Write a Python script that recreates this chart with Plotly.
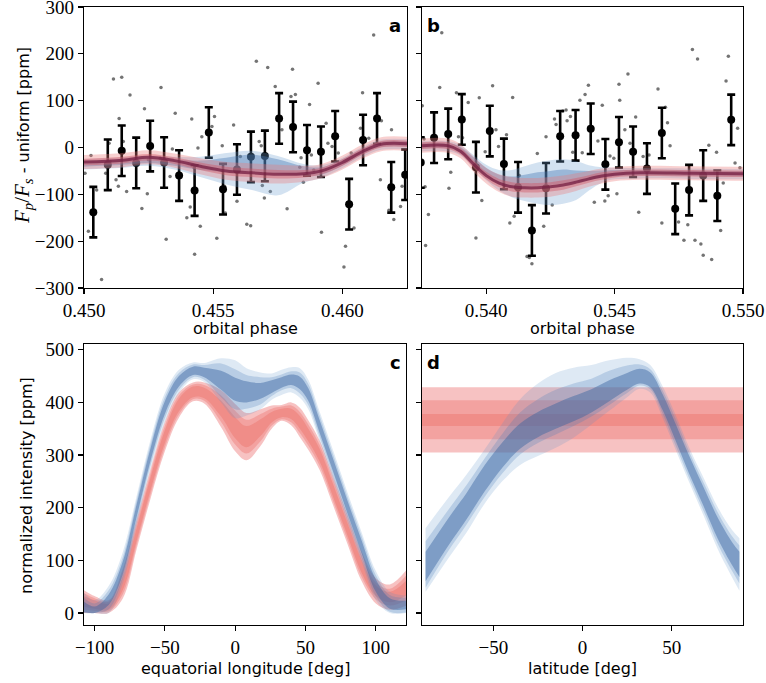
import plotly.graph_objects as go

# ---------------- panel a: binned points ----------------
a_bin_phase = [0.45036, 0.45092, 0.45146, 0.45202, 0.45256, 0.45310, 0.45368, 0.45428,
               0.45483, 0.45538, 0.45592, 0.45646, 0.45700, 0.45755, 0.45809, 0.45863,
               0.45917, 0.45972, 0.46026, 0.46080, 0.46134, 0.46189, 0.46243]
a_bin_flux = [-138, -37, -7, -33, 3, -32, -60, -92, 32, -89, -47, -20, -18, 62, 44, -6,
              -9, 24, -121, 16, 62, -85, -58]
a_bin_err = [54, 54, 54, 54, 54, 54, 54, 54, 54, 54, 54, 54, 54, 54, 54, 54,
             54, 54, 54, 54, 54, 54, 54]

# panel a: unbinned points
a_dot_phase = [0.45004, 0.45027, 0.45049, 0.45017, 0.45068, 0.45114, 0.45146, 0.45136, 0.45178,
               0.45152, 0.45124, 0.45133, 0.45165, 0.45097, 0.45101, 0.45084, 0.45234, 0.45249,
               0.45245, 0.45224, 0.45298, 0.45295, 0.45333, 0.45318, 0.45353, 0.45342, 0.45398,
               0.45411, 0.45417, 0.45428, 0.45441, 0.45426, 0.45450, 0.45456, 0.45505, 0.45495,
               0.45514, 0.45535, 0.45544, 0.45547, 0.45579, 0.45592, 0.45605, 0.45630, 0.45645,
               0.45667, 0.45678, 0.45686, 0.45711, 0.45690, 0.45721, 0.45698, 0.45740, 0.45766,
               0.45786, 0.45801, 0.45807, 0.45818, 0.45835, 0.45840, 0.45849, 0.45873, 0.45880,
               0.45889, 0.45906, 0.45919, 0.45922, 0.45937, 0.45944, 0.45960, 0.45984, 0.46006,
               0.46012, 0.46034, 0.46045, 0.46070, 0.46078, 0.46102, 0.46121, 0.46151, 0.46147,
               0.46180, 0.46190, 0.46199, 0.46225, 0.46231]
a_dot_flux = [-55, -17, -91, -179, -282, 146, 150, 62, 112,
              13, -69, -83, -94, 9, -30, -55, 83, -26,
              -99, -130, 128, -23, -62, -196, 73, -3, -150,
              -127, 61, -228, -1, -43, -168, 23, 66, 45,
              -194, 4, -83, -140, 48, -115, -19, -164, -167,
              184, 13, 4, 171, -81, -94, -108, 130, 38,
              -131, 109, 167, 113, -42, -22, -74, 92, -16,
              -48, 137, -181, -13, 52, 9, 2, -12, -255,
              -211, -12, -172, 41, 117, 20, 240, 57, -69,
              -134, 38, -154, -126, -83]

# panel a: model (blue = one model, red = other), medians and half-widths
a_phase = [0.4500, 0.4515, 0.4525, 0.4535, 0.4545, 0.4555, 0.4565, 0.4575, 0.4585,
           0.4592, 0.4600, 0.4608, 0.4615, 0.4625]
a_red_med = [-31, -27, -21, -28, -40, -50, -54, -57, -56, -50, -32, -8, 7, 8]
a_red_s1 = [7, 7, 7, 7, 8, 9, 9, 9, 8, 7, 7, 7, 7, 7]
a_red_s2 = [15, 15, 15, 15, 17, 19, 20, 20, 17, 15, 15, 15, 15, 15]
a_blue_med = [-35, -31, -27, -32, -38, -37, -33, -40, -50, -50, -32, -8, 7, 8]
a_blue_s1 = [6, 6, 6, 7, 10, 15, 18, 15, 10, 8, 7, 6, 6, 6]
a_blue_lo2 = [12, 12, 12, 15, 25, 42, 58, 62, 25, 15, 12, 12, 12, 12]
a_blue_hi2 = [10, 10, 10, 12, 18, 25, 26, 22, 15, 12, 10, 10, 10, 10]

# ---------------- panel b ----------------
b_bin_phase = [0.53745, 0.53797, 0.53852, 0.53905, 0.53960, 0.54014, 0.54069, 0.54124,
               0.54178, 0.54233, 0.54288, 0.54348, 0.54407, 0.54464, 0.54517, 0.54572,
               0.54626, 0.54684, 0.54736, 0.54790, 0.54845, 0.54900, 0.54954]
b_bin_flux = [-32, 21, 29, 60, -42, 35, -35, -85, -177, -87, 24, 26, 40, -36, 11, -9,
              -45, 31, -131, -91, -60, -103, 59]
b_bin_err = [54, 54, 54, 54, 54, 54, 54, 54, 54, 54, 54, 54, 54, 54, 54, 54,
             54, 54, 54, 54, 54, 54, 54]

b_dot_phase = [0.53751, 0.53758, 0.53762, 0.53775, 0.53764, 0.53827, 0.53819, 0.53855, 0.53862,
               0.53884, 0.53892, 0.53908, 0.53930, 0.53960, 0.53973, 0.53983, 0.53996, 0.54025,
               0.54038, 0.54048, 0.54079, 0.54103, 0.54092, 0.54109, 0.54129, 0.54159, 0.54168,
               0.54178, 0.54199, 0.54224, 0.54233, 0.54257, 0.54266, 0.54272, 0.54298, 0.54311,
               0.54315, 0.54328, 0.54337, 0.54365, 0.54374, 0.54385, 0.54398, 0.54421, 0.54435,
               0.54452, 0.54462, 0.54475, 0.54482, 0.54497, 0.54509, 0.54517, 0.54520, 0.54540,
               0.54552, 0.54560, 0.54582, 0.54594, 0.54611, 0.54634, 0.54669, 0.54684, 0.54698,
               0.54706, 0.54716, 0.54749, 0.54770, 0.54785, 0.54803, 0.54813, 0.54823, 0.54836,
               0.54845, 0.54867, 0.54878, 0.54897, 0.54913, 0.54923, 0.54934, 0.54943, 0.54969,
               0.54979, 0.54988]
b_dot_flux = [89, 18, -84, -143, -209, 245, 128, -87, -53,
              117, 23, 21, 96, -193, 106, -113, -9, 132,
              38, 2, 27, 107, -161, -147, -60, -233, -235,
              -248, -13, -168, 23, -123, 61, 49, 78, 80,
              57, 66, -10, 101, -11, 113, 133, -117, 14,
              90, -114, -103, -18, -23, -99, 135, 101, 38,
              157, 9, 65, -138, -19, -16, 125, -161, 86,
              53, 4, -159, -198, -165, 209, -198, 189, -206,
              -230, 5, -239, -10, -177, -76, 142, 195, -33,
              41, -43]

b_phase = [0.5375, 0.5385, 0.5390, 0.5395, 0.5400, 0.5405, 0.5410, 0.5415, 0.5420,
           0.5425, 0.5430, 0.5435, 0.5440, 0.5445, 0.5450, 0.5460, 0.5480, 0.5500]
b_red_med = [4, 4, -8, -35, -60, -76, -84, -86, -86, -84, -80, -74, -67, -61, -57, -54, -55, -56]
b_red_s1 = [7, 7, 7, 8, 8, 9, 10, 10, 10, 10, 10, 9, 8, 8, 7, 7, 7, 7]
b_red_s2 = [15, 15, 15, 16, 17, 19, 21, 21, 21, 21, 20, 19, 17, 16, 15, 15, 15, 15]
b_blue_med = [4, 4, -5, -28, -52, -68, -74, -72, -68, -65, -62, -62, -60, -57, -55, -54, -55, -56]
b_blue_s1 = [6, 6, 6, 7, 8, 10, 12, 14, 15, 15, 15, 13, 10, 8, 7, 6, 6, 6]
b_blue_lo2 = [12, 12, 12, 14, 18, 24, 32, 42, 52, 58, 58, 50, 32, 18, 13, 12, 12, 12]
b_blue_hi2 = [10, 10, 10, 12, 15, 20, 26, 32, 36, 38, 37, 33, 22, 15, 12, 10, 10, 10]

# ---------------- panel c: equatorial longitude profiles ----------------
c_lon = [-108, -100, -90, -80, -70, -60, -50, -40, -30, -22, -10, 0, 8, 18, 26, 33,
         40, 46, 52, 60, 70, 80, 90, 100, 110, 122]
c_blue_lo3 = [0, 0, 0, 55, 167, 275, 362, 418, 444, 439, 400, 370, 375, 387, 405, 414,
              419, 409, 387, 327, 250, 172, 97, 24, 0, 0]
c_blue_lo2 = [0, 0, 7, 65, 175, 283, 370, 424, 448, 443, 410, 387, 388, 396, 412, 423,
              427, 417, 395, 335, 258, 180, 105, 32, 2, 1]
c_blue_lo1 = [2, 0, 15, 73, 183, 291, 378, 430, 452, 448, 424, 403, 400, 407, 418, 428,
              433, 425, 403, 343, 266, 188, 113, 40, 8, 7]
c_blue_hi1 = [22, 12, 35, 97, 207, 315, 402, 450, 468, 466, 460, 447, 440, 437, 442, 448,
              453, 449, 427, 367, 290, 212, 137, 64, 28, 23]
c_blue_hi2 = [30, 18, 43, 105, 215, 323, 410, 456, 472, 471, 474, 463, 452, 448, 448, 453,
              459, 457, 435, 375, 298, 220, 145, 72, 34, 29]
c_blue_hi3 = [40, 24, 51, 115, 223, 331, 418, 462, 476, 475, 484, 480, 465, 457, 455, 462,
              467, 465, 443, 383, 306, 228, 153, 80, 40, 33]

c_red_lo3 = [0, 0, 0, 27, 122, 219, 307, 371, 402, 398, 353, 307, 290, 317, 350, 365,
             356, 334, 310, 272, 202, 130, 60, 18, 6, 14]
c_red_lo2 = [6, 4, 3, 35, 130, 227, 315, 377, 406, 403, 363, 320, 303, 326, 356, 368,
             362, 342, 318, 280, 210, 138, 68, 26, 14, 24]
c_red_lo1 = [12, 8, 6, 43, 138, 235, 323, 383, 410, 408, 373, 332, 315, 336, 362, 372,
             368, 350, 326, 288, 218, 146, 76, 32, 20, 34]
c_red_hi1 = [32, 24, 18, 67, 162, 259, 347, 407, 430, 428, 403, 372, 355, 368, 382, 388,
             388, 374, 350, 312, 242, 170, 100, 52, 40, 62]
c_red_hi2 = [38, 28, 21, 75, 170, 267, 355, 413, 434, 433, 413, 384, 367, 378, 388, 392,
             394, 382, 358, 320, 250, 178, 108, 58, 46, 72]
c_red_hi3 = [44, 32, 24, 83, 178, 275, 363, 419, 438, 438, 423, 397, 380, 387, 394, 395,
             400, 390, 366, 328, 258, 186, 116, 66, 54, 82]

# ---------------- panel d: latitude profiles ----------------
d_lat = [-88, -75, -65, -55, -45, -35, -25, -15, -5, 5, 15, 25, 32, 38, 45, 52, 60, 68, 76, 84, 88]
d_blue_lo3 = [40, 105, 153, 207, 250, 281, 298, 314, 333, 358, 384, 410, 426, 419, 370, 312, 247, 184, 120, 67, 42]
d_blue_lo2 = [48, 119, 168, 220, 265, 301, 323, 339, 355, 373, 395, 418, 432, 425, 378, 320, 255, 193, 130, 79, 56]
d_blue_lo1 = [60, 129, 178, 230, 276, 312, 334, 350, 364, 381, 402, 424, 436, 429, 385, 329, 263, 202, 140, 90, 68]
d_blue_hi1 = [116, 181, 228, 280, 324, 360, 382, 398, 412, 425, 442, 456, 464, 457, 415, 361, 297, 238, 180, 134, 116]
d_blue_hi2 = [136, 197, 243, 293, 340, 381, 406, 424, 436, 445, 460, 470, 472, 463, 422, 370, 305, 247, 190, 145, 128]
d_blue_hi3 = [161, 220, 263, 310, 360, 406, 436, 456, 466, 471, 480, 485, 482, 471, 430, 378, 313, 256, 200, 157, 142]

d_red_lat = [-90, 90]
d_red_lo3 = [305, 305]
d_red_lo2 = [330, 330]
d_red_lo1 = [355, 355]
d_red_hi1 = [378, 378]
d_red_hi2 = [404, 404]
d_red_hi3 = [429, 429]

# ---------------- styling ----------------
W, H = 766, 683
SERIF = "Liberation Serif"
SANS = "DejaVu Sans"

BLUE3 = "rgba(90,145,200,0.20)"
BLUE2 = "rgba(70,125,185,0.25)"
BLUE1 = "rgba(55,100,160,0.45)"
RED3 = "rgba(238,120,120,0.45)"
RED2 = "rgba(238,115,110,0.40)"
RED1 = "rgba(236,110,100,0.40)"

fig = go.Figure()


def band(xs, lo, hi, color, xa, ya, shape="spline"):
    fig.add_trace(go.Scatter(x=xs, y=lo, mode="lines",
                             line=dict(width=0, shape=shape, smoothing=1.0, color=color),
                             hoverinfo="skip", showlegend=False, xaxis=xa, yaxis=ya))
    fig.add_trace(go.Scatter(x=xs, y=hi, mode="lines",
                             line=dict(width=0, shape=shape, smoothing=1.0, color=color),
                             fill="tonexty", fillcolor=color,
                             hoverinfo="skip", showlegend=False, xaxis=xa, yaxis=ya))


def lc_panel(xa, ya, dot_x, dot_y, bx, by, be, ph, bmed, bs1, blo2, bhi2, rmed, rs1, rs2):
    fig.add_trace(go.Scatter(x=dot_x, y=dot_y, mode="markers",
                             marker=dict(size=3.5, color="rgba(70,70,70,0.75)"),
                             showlegend=False, xaxis=xa, yaxis=ya))
    fig.add_trace(go.Scatter(x=bx, y=by, mode="markers",
                             marker=dict(size=8, color="black"),
                             error_y=dict(type="data", array=be, visible=True,
                                          thickness=2.6, width=4, color="black"),
                             showlegend=False, xaxis=xa, yaxis=ya))
    # blue model
    band(ph, [m - s for m, s in zip(bmed, blo2)], [m + s for m, s in zip(bmed, bhi2)],
         "rgba(110,160,210,0.30)", xa, ya)
    band(ph, [m - s for m, s in zip(bmed, bs1)], [m + s for m, s in zip(bmed, bs1)],
         "rgba(70,120,180,0.40)", xa, ya)
    # red model
    band(ph, [m - s for m, s in zip(rmed, rs2)], [m + s for m, s in zip(rmed, rs2)],
         "rgba(235,120,120,0.35)", xa, ya)
    band(ph, [m - s for m, s in zip(rmed, rs1)], [m + s for m, s in zip(rmed, rs1)],
         "rgba(210,80,95,0.40)", xa, ya)
    fig.add_trace(go.Scatter(x=ph, y=rmed, mode="lines",
                             line=dict(width=3, shape="spline", smoothing=1.0,
                                       color="rgba(115,30,65,0.75)"),
                             hoverinfo="skip", showlegend=False, xaxis=xa, yaxis=ya))


lc_panel("x", "y", a_dot_phase, a_dot_flux, a_bin_phase, a_bin_flux, a_bin_err,
         a_phase, a_blue_med, a_blue_s1, a_blue_lo2, a_blue_hi2, a_red_med, a_red_s1, a_red_s2)
lc_panel("x2", "y2", b_dot_phase, b_dot_flux, b_bin_phase, b_bin_flux, b_bin_err,
         b_phase, b_blue_med, b_blue_s1, b_blue_lo2, b_blue_hi2, b_red_med, b_red_s1, b_red_s2)

# panel c
band(c_lon, c_red_lo3, c_red_hi3, RED3, "x3", "y3")
band(c_lon, c_red_lo2, c_red_hi2, RED2, "x3", "y3")
band(c_lon, c_red_lo1, c_red_hi1, RED1, "x3", "y3")
band(c_lon, c_blue_lo3, c_blue_hi3, BLUE3, "x3", "y3")
band(c_lon, c_blue_lo2, c_blue_hi2, BLUE2, "x3", "y3")
band(c_lon, c_blue_lo1, c_blue_hi1, BLUE1, "x3", "y3")

# panel d
band(d_red_lat, d_red_lo3, d_red_hi3, RED3, "x4", "y4", shape="linear")
band(d_red_lat, d_red_lo2, d_red_hi2, RED2, "x4", "y4", shape="linear")
band(d_red_lat, d_red_lo1, d_red_hi1, RED1, "x4", "y4", shape="linear")
band(d_lat, d_blue_lo3, d_blue_hi3, BLUE3, "x4", "y4")
band(d_lat, d_blue_lo2, d_blue_hi2, BLUE2, "x4", "y4")
band(d_lat, d_blue_lo1, d_blue_hi1, BLUE1, "x4", "y4")


def px(x):
    return x / W


def py(y):
    return 1 - y / H


ax_common = dict(showline=True, linecolor="black", linewidth=1.3, mirror=True,
                 ticks="outside", ticklen=5, tickwidth=1.2, tickcolor="black",
                 showgrid=False, zeroline=False, automargin=False,
                 ticklabeloverflow="allow",
                 tickfont=dict(family=SERIF, size=19, color="black"))

fig.update_layout(
    template="none",
    width=W, height=H, margin=dict(l=0, r=0, t=0, b=0, pad=0), autosize=False,
    paper_bgcolor="white", plot_bgcolor="white", showlegend=False,
    xaxis=dict(domain=[px(84), px(407)], anchor="y", range=[0.450, 0.4625],
               tickvals=[0.450, 0.455, 0.460], tickformat=".3f", **ax_common),
    yaxis=dict(domain=[py(288), py(7)], anchor="x", range=[-300, 300],
               tickvals=[-300, -200, -100, 0, 100, 200, 300], **ax_common),
    xaxis2=dict(domain=[px(422), px(743)], anchor="y2", range=[0.5375, 0.5500],
                tickvals=[0.540, 0.545, 0.550], tickformat=".3f", **ax_common),
    yaxis2=dict(domain=[py(288), py(7)], anchor="x2", range=[-300, 300],
                tickvals=[-300, -200, -100, 0, 100, 200, 300], showticklabels=False, **ax_common),
    xaxis3=dict(domain=[px(84), px(406)], anchor="y3", range=[-107.5, 121.5],
                tickvals=[-100, -50, 0, 50, 100], **ax_common),
    yaxis3=dict(domain=[py(625), py(344)], anchor="x3", range=[-23, 511],
                tickvals=[0, 100, 200, 300, 400, 500], **ax_common),
    xaxis4=dict(domain=[px(422), px(743)], anchor="y4", range=[-90, 90],
                tickvals=[-50, 0, 50], **ax_common),
    yaxis4=dict(domain=[py(625), py(344)], anchor="x4", range=[-23, 511],
                tickvals=[0, 100, 200, 300, 400, 500], showticklabels=False, **ax_common),
)

title_font = dict(family=SANS, size=16, color="black")
letter_font = dict(family=SANS, size=18, color="black")
ann = [
    dict(text="orbital phase", x=px(245.5), y=py(328)),
    dict(text="orbital phase", x=px(582.5), y=py(328)),
    dict(text="equatorial longitude [deg]", x=px(245), y=py(668)),
    dict(text="latitude [deg]", x=px(582.5), y=py(668)),
    dict(text="<span style='font-family:Liberation Serif;font-size:21px'><i>F</i><sub><i>p</i></sub>"
              "/<i>F</i><sub><i>s</i></sub></span> - uniform [ppm]",
         x=px(23), y=py(136), textangle=-90),
    dict(text="normalized intensity [ppm]", x=px(26), y=py(486), textangle=-90),
]
for a in ann:
    fig.add_annotation(xref="paper", yref="paper", showarrow=False,
                       xanchor="center", yanchor="middle", font=title_font, **a)

for t, x, y in [("a", 395, 25), ("b", 433, 25), ("c", 395, 362), ("d", 433, 362)]:
    fig.add_annotation(xref="paper", yref="paper", showarrow=False, text="<b>%s</b>" % t,
                       x=px(x), y=py(y), xanchor="center", yanchor="middle", font=letter_font)

fig.write_html("out.html",
               config={"displayModeBar": False, "staticPlot": True},
               post_script="document.body.style.margin='0px';document.body.style.padding='0px';"
                           "document.documentElement.style.overflow='hidden';")
